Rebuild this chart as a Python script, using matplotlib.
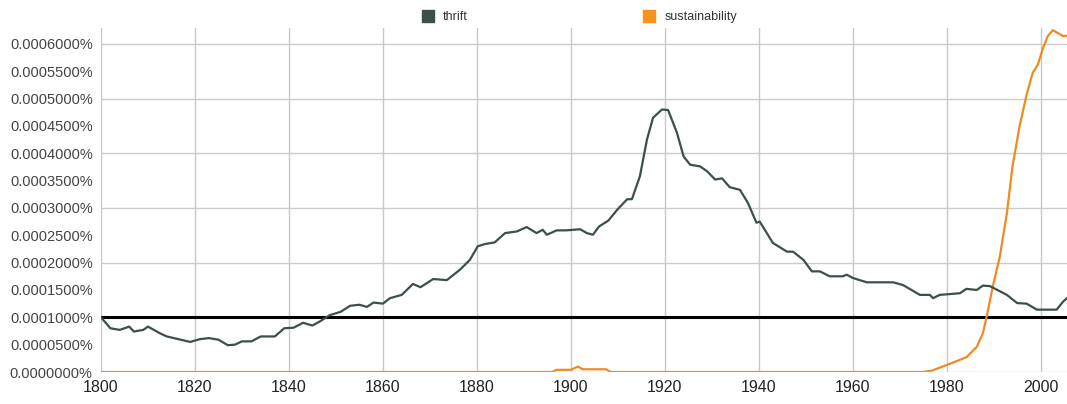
import matplotlib.pyplot as plt
from matplotlib.ticker import FuncFormatter, MultipleLocator
from matplotlib.lines import Line2D

plt.rcParams['font.family'] = ['Liberation Sans', 'DejaVu Sans']

# values are in percent, as on the ngram axis
thrift_years = [1800, 1802, 1804, 1806, 1807, 1809, 1810, 1812.5, 1814, 1817, 1819,
                1821, 1823, 1825, 1827, 1828.5, 1830, 1832, 1834, 1837, 1839, 1841,
                1843, 1845, 1846.5, 1848.7, 1851, 1853, 1855, 1856.6, 1858, 1860,
                1861.5, 1864, 1866.4, 1868, 1870.7, 1873.6, 1876.4, 1878.5, 1880.2,
                1881.7, 1883.8, 1886, 1888.5, 1890.6, 1892.7, 1894, 1894.9, 1897,
                1899, 1902, 1903.4, 1904.7, 1906, 1908, 1910, 1912, 1913, 1914.7,
                1916.2, 1917.5, 1919.4, 1920.7, 1922.6, 1924, 1925.4, 1927.5, 1929,
                1930.7, 1932.2, 1933.8, 1936, 1937.7, 1939.5, 1940.2, 1943, 1946,
                1947.3, 1949.5, 1951.3, 1953, 1955.1, 1957.9, 1958.7, 1960, 1963,
                1965.8, 1968.6, 1970.7, 1974.3, 1976.4, 1977.1, 1978.5, 1982.8,
                1984.2, 1986.4, 1987.7, 1989.2, 1992.8, 1995, 1997, 1999.2, 2003.4,
                2004.8, 2005.6]
thrift = [0.000100, 0.000080, 0.000077, 0.000083, 0.000074, 0.000077, 0.000083,
          0.000071, 0.000065, 0.000059, 0.000055, 0.000060, 0.000062, 0.000059,
          0.000049, 0.000050, 0.000056, 0.000056, 0.000065, 0.000065, 0.000080,
          0.000081, 0.000090, 0.000085, 0.000092, 0.000104, 0.000110, 0.000121,
          0.000123, 0.000119, 0.000127, 0.000125, 0.000135, 0.000141, 0.000161,
          0.000155, 0.000170, 0.000168, 0.000187, 0.000205, 0.000230, 0.000234,
          0.000237, 0.000254, 0.000257, 0.000265, 0.000254, 0.000260, 0.000251,
          0.000259, 0.000259, 0.000261, 0.000254, 0.000251, 0.000266, 0.000277,
          0.000298, 0.000316, 0.000316, 0.000358, 0.000425, 0.000465, 0.000480,
          0.000479, 0.000437, 0.000394, 0.000379, 0.000376, 0.000367, 0.000352,
          0.000354, 0.000338, 0.000333, 0.000309, 0.000273, 0.000275, 0.000236,
          0.000220, 0.000220, 0.000205, 0.000184, 0.000184, 0.000175, 0.000175,
          0.000178, 0.000172, 0.000164, 0.000164, 0.000164, 0.000159, 0.000141,
          0.000141, 0.000135, 0.000141, 0.000144, 0.000152, 0.000150, 0.000158,
          0.000157, 0.000141, 0.000126, 0.000125, 0.000114, 0.000114, 0.000129,
          0.000135]

sust_years = [1800, 1896, 1897, 1900, 1901.5, 1902.5, 1907.5, 1908.5, 1975, 1977,
              1980, 1984.2, 1986.4, 1987.7, 1988.5, 1989.8, 1991.3, 1992.8, 1994,
              1995.5, 1997, 1998.3, 1999.4, 2000.4, 2001.5, 2002.6, 2003.6, 2004.8,
              2005.6]
sustainability = [0.0, 0.0, 0.000004, 0.000004, 0.000010, 0.000005, 0.000005,
                  0.0, 0.0, 0.000003, 0.0000128, 0.000027, 0.000046,
                  0.000071, 0.000101, 0.000156, 0.000211, 0.000290, 0.000376,
                  0.000449, 0.000507, 0.000547, 0.000562, 0.000590, 0.000614,
                  0.000625, 0.000620, 0.000614, 0.000615]

thrift_color = '#3d4f4c'
sust_color = '#ed8c25'

fig = plt.figure(figsize=(10.67, 4.04), dpi=100)
ax = fig.add_axes([101 / 1067, 1 - 372 / 404, 1 - 101 / 1067, (372 - 28) / 404])

# grid: horizontal every 0.0001, vertical every 20 years
for v in [0.0, 0.0002, 0.0003, 0.0004, 0.0005, 0.0006]:
    ax.axhline(v, color='#cccccc', linewidth=1, zorder=0)
for yr in range(1800, 2001, 20):
    ax.axvline(yr, color='#c8c8c8', linewidth=1, zorder=0)

ax.axhline(0.0001, color='black', linewidth=2.2, zorder=3)
ax.plot(sust_years, sustainability, color=sust_color, linewidth=1.6, zorder=4)
ax.plot(thrift_years, thrift, color=thrift_color, linewidth=1.6, zorder=5)

ax.set_xlim(1800, 2005.6)
ax.set_ylim(0, 0.000629)
ax.xaxis.set_major_locator(MultipleLocator(20))
ax.yaxis.set_major_locator(MultipleLocator(0.00005))
ax.yaxis.set_major_formatter(FuncFormatter(lambda v, p: f"{v:.7f}%"))
ax.tick_params(axis='y', length=0, pad=6, labelsize=10.5, labelcolor='#444444')
ax.tick_params(axis='x', length=0, pad=6, labelsize=11.5, labelcolor='#222222')
for s in ax.spines.values():
    s.set_visible(False)

handles = [Line2D([], [], marker='s', linestyle='none', markersize=8,
                  color=thrift_color, label='thrift'),
           Line2D([], [], marker='s', linestyle='none', markersize=8,
                  color='#f7941d', label='sustainability')]
fig.legend(handles=handles, loc='center', bbox_to_anchor=(0.54, 1 - 17 / 404),
           ncol=2, frameon=False, fontsize=9, handletextpad=0.2,
           columnspacing=13.5, labelcolor='#333333')

fig.savefig('out.png', dpi=100)
